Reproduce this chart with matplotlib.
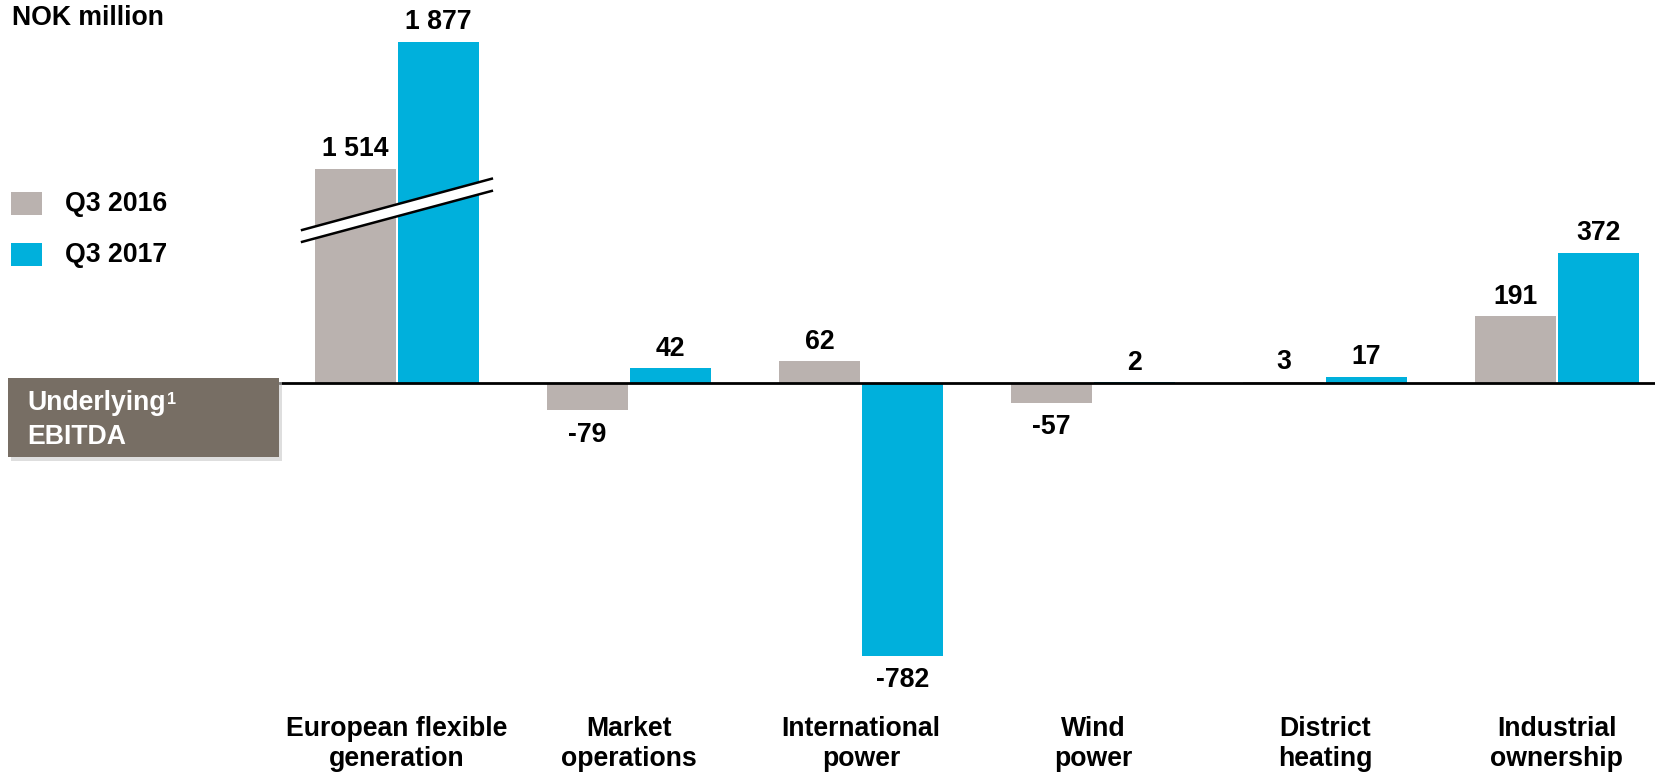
import matplotlib.pyplot as plt
from matplotlib.patches import Rectangle, Polygon

plt.rcParams['font.family'] = ['Liberation Sans', 'DejaVu Sans']
plt.rcParams['font.weight'] = 'bold'

# data (NOK million)
categories = ['European flexible\ngeneration', 'Market\noperations', 'International\npower',
              'Wind\npower', 'District\nheating', 'Industrial\nownership']
q3_2016 = [1514, -79, 62, -57, 3, 191]
q3_2017 = [1877, 42, -782, 2, 17, 372]
labels_2016 = ['1 514', '-79', '62', '-57', '3', '191']
labels_2017 = ['1 877', '42', '-782', '2', '17', '372']
series_names = ['Q3 2016', 'Q3 2017']

# first group is drawn on a broken axis
axis_break = 900

gray = '#bab2af'
blue = '#00b0dc'
box_color = '#776e64'

W, H = 1656, 772
fig = plt.figure(figsize=(W / 100, H / 100), dpi=100)
ax = fig.add_axes([0, 0, 1, 1])
ax.set_xlim(-1.711, 5.427)
ax.set_ylim(-1115, 1097)
ax.axis('off')


def px(x, y):
    # pixel position (from top-left) -> axes fraction
    return x / W, 1 - y / H


width = 0.349
off = 0.178
fs = 19.2

for i in range(len(categories)):
    for vals, labs, color, sign in [(q3_2016, labels_2016, gray, -1), (q3_2017, labels_2017, blue, 1)]:
        v = vals[i]
        h = v - axis_break if i == 0 else v
        x = i + sign * off
        ax.bar(x, h, width=width, color=color, zorder=2)
        y = h + 56 if v >= 0 else h - 70
        ax.text(x, y, labs[i], ha='center', va='center', fontsize=fs, fontweight='bold')
    ax.text(i, -1036, categories[i], ha='center', va='center', fontsize=fs,
            fontweight='bold', linespacing=1.2)

# zero line
ax.axhline(0, xmin=280 / W, xmax=1, color='black', lw=2, zorder=3)

# axis break marks on first group
bx0, bx1 = -0.409, 0.409
top0, top1 = 438, 585
bot0, bot1 = 404, 550
ax.add_patch(Polygon([[bx0, bot0], [bx1, bot1], [bx1, top1], [bx0, top0]],
                     closed=True, facecolor='white', edgecolor='none', zorder=4))
ax.plot([bx0, bx1], [top0, top1], color='black', lw=1.8, zorder=5)
ax.plot([bx0, bx1], [bot0, bot1], color='black', lw=1.8, zorder=5)

# unit label
ax.text(*px(12, 18), 'NOK million', transform=ax.transAxes, ha='left', va='center',
        fontsize=fs, fontweight='bold')

# legend
for (y, c, name) in [(192, gray, series_names[0]), (243, blue, series_names[1])]:
    x0, y0 = px(11, y + 23)
    ax.add_patch(Rectangle((x0, y0), 31 / W, 23 / H, transform=ax.transAxes,
                           facecolor=c, edgecolor='none'))
    ax.text(*px(65, y + 12), name, transform=ax.transAxes, ha='left', va='center',
            fontsize=fs, fontweight='bold')

# "Underlying EBITDA" tag
sx, sy = px(11, 461)
ax.add_patch(Rectangle((sx, sy), 271 / W, 79 / H, transform=ax.transAxes,
                       facecolor='#c8c8c8', edgecolor='none', alpha=0.6, zorder=5))
bx, by = px(8, 457)
ax.add_patch(Rectangle((bx, by), 271 / W, 79 / H, transform=ax.transAxes,
                       facecolor=box_color, edgecolor='none', zorder=6))
t = ax.text(*px(27, 403), 'Underlying', transform=ax.transAxes, ha='left', va='center',
            fontsize=fs, fontweight='bold', color='white', zorder=7)
ax.annotate('1', xy=(1, 0.92), xycoords=t, xytext=(1, 0), textcoords='offset points',
            ha='left', va='top', fontsize=fs * 0.62, fontweight='bold', color='white', zorder=7)
ax.text(*px(27, 437), 'EBITDA', transform=ax.transAxes, ha='left', va='center',
        fontsize=fs, fontweight='bold', color='white', zorder=7)

fig.savefig('out.png', dpi=100)
